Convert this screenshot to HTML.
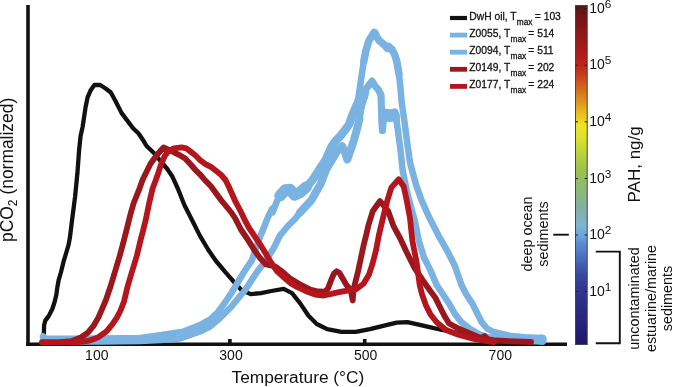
<!DOCTYPE html>
<html><head><meta charset="utf-8"><style>
html,body{margin:0;padding:0;background:#fff;}
body{width:673px;height:387px;overflow:hidden;}
svg{display:block;will-change:transform;}
</style></head><body>
<svg width="673" height="387" viewBox="0 0 673 387" xmlns="http://www.w3.org/2000/svg" font-family="Liberation Sans, sans-serif">
<defs><linearGradient id="cb" x1="0" y1="0" x2="0" y2="1">
<stop offset="0.0000" stop-color="#5E1212"/>
<stop offset="0.0736" stop-color="#8A1818"/>
<stop offset="0.1473" stop-color="#B21C1E"/>
<stop offset="0.1767" stop-color="#BC2620"/>
<stop offset="0.2062" stop-color="#C63E1E"/>
<stop offset="0.2356" stop-color="#D0601E"/>
<stop offset="0.2651" stop-color="#D8801E"/>
<stop offset="0.2946" stop-color="#E0A020"/>
<stop offset="0.3240" stop-color="#EAC41E"/>
<stop offset="0.3535" stop-color="#F0E428"/>
<stop offset="0.3976" stop-color="#D8E030"/>
<stop offset="0.4418" stop-color="#B8D040"/>
<stop offset="0.4860" stop-color="#9CC24E"/>
<stop offset="0.5155" stop-color="#94BE62"/>
<stop offset="0.5596" stop-color="#88B880"/>
<stop offset="0.6038" stop-color="#80B0A8"/>
<stop offset="0.6480" stop-color="#80B4D4"/>
<stop offset="0.6775" stop-color="#6EA6DE"/>
<stop offset="0.7069" stop-color="#5888D0"/>
<stop offset="0.7511" stop-color="#4868B8"/>
<stop offset="0.7953" stop-color="#3848A0"/>
<stop offset="0.8395" stop-color="#32368E"/>
<stop offset="0.8984" stop-color="#2A2A84"/>
<stop offset="1.0000" stop-color="#1E1668"/>
</linearGradient></defs>
<g stroke="#111" stroke-width="3.6" fill="none">
<line x1="28" y1="5" x2="28" y2="346"/>
<line x1="26.2" y1="344.2" x2="567" y2="344.2"/>
<line x1="95.1" y1="339" x2="95.1" y2="343"/>
<line x1="229.9" y1="339" x2="229.9" y2="343"/>
<line x1="499.5" y1="339" x2="499.5" y2="343"/>
<line x1="364.7" y1="339" x2="364.7" y2="343"/>
</g>
<g fill="none" stroke-linejoin="round" stroke-linecap="round">
<polyline points="43.8,337.0 43.7,334.0 43.9,332.2 44.1,325.2 45.3,320.6 48.8,315.9 52.3,309.0 54.6,302.0 56.3,295.0 57.4,287.0 58.6,280.3 61.0,272.0 63.5,261.9 66.0,253.5 68.5,245.1 70.0,237.0 72.1,219.8 75.1,196.5 77.4,173.3 79.1,150.0 80.6,136.0 82.7,126.4 85.6,107.0 87.6,97.4 90.5,90.6 94.4,85.0 100.2,85.0 106.0,88.7 110.8,92.5 115.6,101.3 121.5,112.9 127.3,120.6 133.1,128.3 138.6,133.5 143.8,141.3 146.6,146.0 154.4,153.5 160.8,161.3 167.3,169.0 172.5,176.8 177.6,188.0 184.5,205.2 193.0,222.0 200.1,236.1 208.4,250.0 216.0,261.0 225.8,272.7 234.9,283.0 241.4,290.0 250.7,294.1 261.0,293.1 271.3,291.0 283.7,288.9 292.0,293.1 300.2,303.4 308.5,315.8 316.8,324.0 327.1,329.2 341.4,331.9 355.7,331.9 369.9,329.2 384.2,325.7 396.7,322.6 407.4,322.1 419.9,324.8 430.6,327.4 440.0,329.5 446.7,330.5 460.0,333.5 475.0,337.5 490.0,340.5" stroke="#111111" stroke-width="4.3"/>
<polyline points="43.0,336.3 46.0,338.5 70.0,338.8 100.0,338.6 140.0,338.0 160.0,335.3 183.0,331.7 200.0,325.0 210.0,319.5 218.0,312.0 225.0,302.5 232.0,292.0 238.0,282.0 244.0,272.0 252.0,260.0 256.0,248.0 260.7,235.2 264.5,226.0 268.0,217.1 272.0,209.0 272.6,212.5 277.0,201.0 280.0,195.8 285.4,190.0 290.0,189.4 294.5,195.0 299.9,192.6 306.2,187.2 312.6,180.0 318.7,170.5 325.9,159.5 331.4,147.0 336.0,140.5 340.4,136.0 345.8,129.0 349.3,124.1 352.1,116.0 356.6,105.0 358.6,96.5 360.7,82.0 363.8,61.3 365.8,51.0 368.9,40.7 374.1,32.4 379.3,40.7 386.5,46.9 391.7,48.9 394.8,55.1 396.8,61.3 398.9,73.7 400.5,88.2 401.5,100.7 404.4,121.3 407.1,142.0 409.6,160.0 411.0,166.5 416.2,185.1 421.3,199.6 429.0,217.0 439.3,236.9 447.5,251.3 454.8,265.8 461.5,285.0 466.2,294.3 472.4,303.6 477.0,312.9 481.7,322.2 487.0,328.5 493.5,332.0 509.1,335.7 524.7,337.2 540.3,338.0 543.0,338.3" stroke="#7AB2E2" stroke-width="6.5"/>
<polyline points="43.0,340.0 70.0,341.5 100.0,341.5 140.0,341.0 160.0,340.0 180.0,338.5 200.0,331.5 210.0,326.5 220.0,318.0 231.5,306.5 238.0,298.5 245.2,290.0 257.0,272.0 266.0,260.3 273.8,247.9 280.0,235.5 287.7,226.2 295.0,219.0 300.0,212.5 306.0,206.0 311.5,200.0 316.0,192.0 320.5,184.3 326.0,169.8 331.4,160.7 336.8,151.7 342.2,146.3 345.0,152.0 347.3,159.5 351.3,148.1 354.0,140.0 356.7,130.0 359.4,119.5 362.1,105.0 364.8,96.5 366.0,89.0 372.0,81.0 375.0,86.0 378.6,90.0 381.0,95.0 381.5,113.0 382.4,130.6 384.0,112.0 390.0,113.0 395.0,112.0 396.5,120.0 398.5,135.0 400.5,150.0 402.7,170.7 406.9,191.3 411.5,209.0 414.6,220.0 418.8,240.7 423.9,257.2 430.1,269.6 436.7,285.0 442.9,294.3 449.1,303.6 455.3,314.5 461.5,322.2 469.3,328.4 477.0,333.1 484.6,336.5 500.0,339.5 530.0,341.0 543.0,341.5" stroke="#7AB2E2" stroke-width="6.5"/>
<polyline points="306.2,187.2 312.6,180.0 318.7,170.5 325.9,159.5 331.4,147.0 336.0,140.5 340.4,136.0 345.8,129.0 349.3,124.1 352.1,116.0 356.6,105.0" stroke="#7AB2E2" stroke-width="8.5"/>
<polyline points="300.0,212.5 306.0,206.0 311.5,200.0 316.0,192.0 320.5,184.3 326.0,169.8 331.4,160.7 336.8,151.7 342.2,146.3 345.0,152.0 347.3,159.5 351.3,148.1 354.0,140.0 356.7,130.0 359.4,119.5" stroke="#7AB2E2" stroke-width="8"/>
<polyline points="363.8,61.3 365.8,51.0 368.9,40.7 374.1,32.4 379.3,40.7 386.5,46.9 391.7,48.9 394.8,55.1 396.8,61.3 398.9,73.7" stroke="#7AB2E2" stroke-width="7.5"/>
<polyline points="364.8,96.5 366.0,89.0 372.0,81.0 375.0,86.0 378.6,90.0 381.0,95.0 381.5,113.0 382.4,130.6 384.0,112.0 390.0,113.0 395.0,112.0 396.5,120.0" stroke="#7AB2E2" stroke-width="7"/>
<polyline points="384,116.5 390,117 395,116" stroke="#7AB2E2" stroke-width="10"/>
<polyline points="280.0,195.8 285.4,190.0 290.0,189.4 294.5,195.0 299.9,192.6 306.2,187.2" stroke="#7AB2E2" stroke-width="11.5"/>
<circle cx="374.5" cy="33.8" r="4.6" fill="#7AB2E2"/>
<circle cx="388" cy="47.5" r="5" fill="#7AB2E2"/>
<circle cx="541.5" cy="339.5" r="5.2" fill="#7AB2E2"/>
<polyline points="42.0,342.3 60.0,342.2 71.6,341.2 80.9,337.5 87.9,332.6 93.7,325.6 98.4,317.4 101.9,309.3 105.9,300.0 110.5,286.5 115.2,271.0 119.8,255.5 124.0,240.0 127.4,226.5 130.5,214.1 133.6,203.3 136.7,195.5 139.8,187.8 142.5,180.0 145.3,174.2 150.5,163.8 157.0,154.8 163.5,147.5 171.2,150.9 178.9,154.8 185.2,158.5 190.3,164.0 195.5,170.0 200.7,175.1 204.8,180.0 210.7,186.0 221.0,200.0 231.3,212.5 235.0,218.0 241.2,230.0 247.4,239.0 253.6,249.0 259.8,257.8 266.0,264.5 275.3,266.5 281.5,271.0 289.3,278.0 299.3,284.0 310.2,289.5 318.0,291.5 324.8,291.7 328.0,288.4 331.3,279.7 334.0,273.5 336.7,271.3 339.5,273.0 342.1,277.5 346.5,285.1 350.0,289.0 351.5,294.0 352.7,300.5 353.6,289.2 355.4,282.0 358.1,271.2 360.8,258.5 363.5,245.8 366.2,235.0 368.5,225.0 372.7,211.3 380.0,201.0 388.2,211.3 393.4,225.8 400.0,238.0 406.2,251.3 414.5,267.9 422.7,280.2 430.5,291.2 435.2,297.4 439.8,306.7 444.5,316.0 449.1,323.5 458.4,328.5 467.7,332.5 477.0,336.5 481.5,338.0 484.6,336.0 487.5,339.0 495.0,340.5 531.0,342.0" stroke="#9A171D" stroke-width="5.8"/>
<polyline points="42.0,342.3 77.4,342.3 89.1,340.7 98.4,337.2 106.5,331.4 112.3,324.4 117.0,317.4 120.5,310.5 124.0,301.5 127.6,286.5 132.2,271.0 136.9,255.5 140.6,240.0 142.9,231.2 146.0,218.8 149.1,203.3 152.6,188.5 157.0,176.8 160.8,165.1 164.7,156.1 168.6,150.9 173.8,148.3 181.5,147.3 186.2,148.3 190.3,151.4 195.5,155.5 200.7,160.7 205.8,164.3 211.0,166.9 216.2,171.0 221.3,175.1 225.5,180.0 228.5,186.0 235.5,201.7 241.0,212.0 245.0,220.5 249.0,227.8 255.2,237.1 261.4,246.4 266.0,254.1 270.7,261.9 276.9,271.0 284.6,278.0 291.0,283.5 297.0,287.0 305.5,291.0 315.0,294.5 323.7,295.5 331.3,293.8 338.9,292.2 347.4,290.6 356.3,289.2 363.5,283.8 368.9,274.8 372.5,263.9 376.2,249.5 378.9,235.0 383.1,217.5 387.2,201.0 391.3,187.6 398.6,179.3 403.7,186.5 406.8,201.0 409.9,217.5 412.4,241.0 416.5,261.7 419.7,285.0 422.0,294.3 425.9,305.2 430.5,314.5 436.7,322.2 446.0,330.0 458.4,334.8 473.9,339.0 486.9,341.2 494.0,342.0" stroke="#B5151D" stroke-width="5.8"/>
</g>
<g font-size="14" fill="#111" text-anchor="middle">
<text x="96.8" y="359.6">100</text>
<text x="231" y="359.6">300</text>
<text x="365.6" y="359.6">500</text>
<text x="500.3" y="359.6">700</text>
</g>
<text x="231.5" y="383.3" font-size="17.3" fill="#111">Temperature (°C)</text>
<text transform="translate(12.5,242) rotate(-90)" font-size="17.45" fill="#111">pCO<tspan dy="4" font-size="12">2</tspan><tspan dy="-4"> (normalized)</tspan></text>
<rect x="575.5" y="5.5" width="11.7" height="339" fill="url(#cb)" stroke="#444" stroke-width="1"/>
<g stroke="#222" stroke-width="1"><line x1="575.5" y1="8.5" x2="578" y2="8.5"/><line x1="584.6" y1="8.5" x2="587.2" y2="8.5"/><line x1="575.5" y1="65.2" x2="578" y2="65.2"/><line x1="584.6" y1="65.2" x2="587.2" y2="65.2"/><line x1="575.5" y1="121.8" x2="578" y2="121.8"/><line x1="584.6" y1="121.8" x2="587.2" y2="121.8"/><line x1="575.5" y1="178.5" x2="578" y2="178.5"/><line x1="584.6" y1="178.5" x2="587.2" y2="178.5"/><line x1="575.5" y1="235.0" x2="578" y2="235.0"/><line x1="584.6" y1="235.0" x2="587.2" y2="235.0"/><line x1="575.5" y1="291.5" x2="578" y2="291.5"/><line x1="584.6" y1="291.5" x2="587.2" y2="291.5"/></g>
<g font-size="14" fill="#111"><text x="589.2" y="12.7">10<tspan dy="-5" font-size="11.8">6</tspan></text><text x="589.2" y="69.4">10<tspan dy="-5" font-size="11.8">5</tspan></text><text x="589.2" y="126.0">10<tspan dy="-5" font-size="11.8">4</tspan></text><text x="589.2" y="182.7">10<tspan dy="-5" font-size="11.8">3</tspan></text><text x="589.2" y="239.2">10<tspan dy="-5" font-size="11.8">2</tspan></text><text x="589.2" y="295.7">10<tspan dy="-5" font-size="11.8">1</tspan></text></g>
<text transform="translate(640.4,164.4) rotate(-90)" font-size="17" fill="#111" text-anchor="middle">PAH, ng/g</text>
<g font-size="14.4" fill="#111" text-anchor="middle">
<text transform="translate(531.5,234) rotate(-90)">deep ocean</text>
<text transform="translate(548.1,234) rotate(-90)">sediments</text>
<text transform="translate(639,298.5) rotate(-90)">uncontaminated</text>
<text transform="translate(656,298.5) rotate(-90)">estuarine/marine</text>
<text transform="translate(672,298.5) rotate(-90)">sediments</text>
</g>
<g stroke="#111" stroke-width="1.9" fill="none">
<line x1="553.3" y1="234.7" x2="568.8" y2="234.7"/>
<polyline points="595.8,251.6 619.8,251.6 619.8,343.2 595.8,343.2"/>
</g>
<g fill="#111" stroke="#111" stroke-width="0.28"><line x1="450" y1="18.0" x2="467" y2="18.0" stroke="#111111" stroke-width="4.2"/><text x="469.3" y="19.5" font-size="10.3">DwH oil, T</text><text x="516.8" y="24.9" font-size="8.3">max</text><text x="534.8" y="19.5" font-size="10.3">= 103</text><line x1="450" y1="35.1" x2="467" y2="35.1" stroke="#7AB2E2" stroke-width="4.8"/><text x="469.3" y="36.6" font-size="10.3">Z0055, T</text><text x="510.5" y="42.0" font-size="8.3">max</text><text x="528.3" y="36.6" font-size="10.3">= 514</text><line x1="450" y1="52.2" x2="467" y2="52.2" stroke="#7AB2E2" stroke-width="4.8"/><text x="469.3" y="53.7" font-size="10.3">Z0094, T</text><text x="510.5" y="59.1" font-size="8.3">max</text><text x="528.3" y="53.7" font-size="10.3">= 511</text><line x1="450" y1="69.3" x2="467" y2="69.3" stroke="#9A171D" stroke-width="4.8"/><text x="469.3" y="70.8" font-size="10.3">Z0149, T</text><text x="510.5" y="76.2" font-size="8.3">max</text><text x="528.3" y="70.8" font-size="10.3">= 202</text><line x1="450" y1="86.4" x2="467" y2="86.4" stroke="#B5151D" stroke-width="4.8"/><text x="469.3" y="87.9" font-size="10.3">Z0177, T</text><text x="510.5" y="93.3" font-size="8.3">max</text><text x="528.3" y="87.9" font-size="10.3">= 224</text></g>
</svg>
</body></html>
